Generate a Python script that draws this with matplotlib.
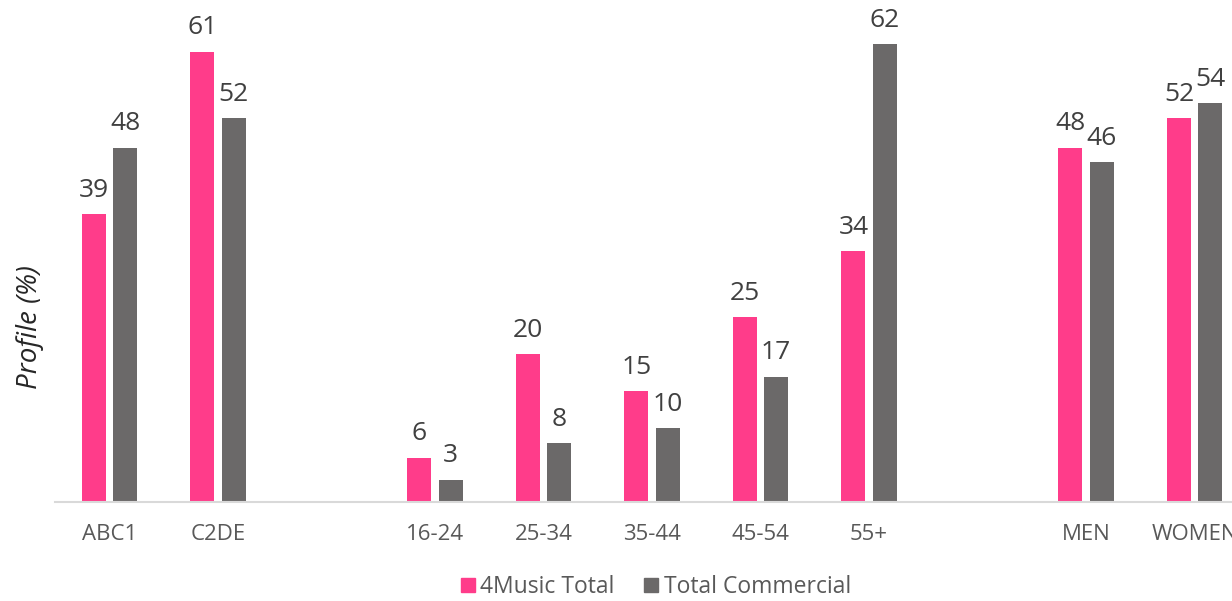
import matplotlib
matplotlib.use("Agg")
import matplotlib.pyplot as plt
from matplotlib.patches import Patch

plt.rcParams['font.family'] = ['Open Sans', 'DejaVu Sans']

# audience profile groups
groups = [
    ['ABC1', 'C2DE'],
    ['16-24', '25-34', '35-44', '45-54', '55+'],
    ['MEN', 'WOMEN'],
]
music_total = [39, 61, 6, 20, 15, 25, 34, 48, 52]
commercial_total = [48, 52, 3, 8, 10, 17, 62, 46, 54]
series_names = ['4Music Total', 'Total Commercial']

PINK = '#FF3C8A'
GREY = '#6B6969'
TEXT = '#404040'
TICK = '#595959'

# x slots: one empty slot between groups
labels, xpos = [], []
slot = 0
for g in groups:
    for name in g:
        labels.append(name)
        xpos.append(slot)
        slot += 1
    slot += 1
last_slot = xpos[-1]

fig = plt.figure(figsize=(12.32, 6.01), dpi=100)
ax = fig.add_axes([55.25 / 1232, 99 / 601, 11 * 108.5 / 1232, 502 / 601])

w = 0.221
off = 0.143
for vals, color, sign in [(music_total, PINK, -1), (commercial_total, GREY, 1)]:
    xs = [x + sign * off for x in xpos]
    bars = ax.bar(xs, vals, width=w, color=color, zorder=2)
    for b, v in zip(bars, vals):
        ax.annotate(str(v), (b.get_x() + b.get_width() / 2, v),
                    xytext=(0, 12.5), textcoords='offset points',
                    ha='center', va='baseline', fontsize=19, color=TEXT,
                    annotation_clip=False)

ax.set_xlim(-0.5, last_slot + 0.5)
ax.set_ylim(0, 68)
ax.set_xticks(xpos)
ax.set_xticklabels(labels, fontsize=16, color=TICK)
ax.tick_params(axis='x', length=0, pad=16)
ax.set_yticks([])
for s in ['top', 'right', 'left']:
    ax.spines[s].set_visible(False)
ax.spines['bottom'].set_color('#D9D9D9')
ax.spines['bottom'].set_linewidth(1.5)

fig.text(30 / 1232, 1 - 327 / 601, 'Profile (%)', rotation=90, style='italic',
         fontsize=20, color='#262626', ha='center', va='center')

handles = [Patch(color=PINK), Patch(color=GREY)]
fig.legend(handles, series_names, loc='center', bbox_to_anchor=(656 / 1232, 1 - 587 / 601),
           ncol=2, frameon=False, fontsize=16.5, labelcolor=TICK,
           handlelength=0.6, handleheight=0.6, handletextpad=0.25, columnspacing=1.3)

fig.savefig('out.png', dpi=100)
